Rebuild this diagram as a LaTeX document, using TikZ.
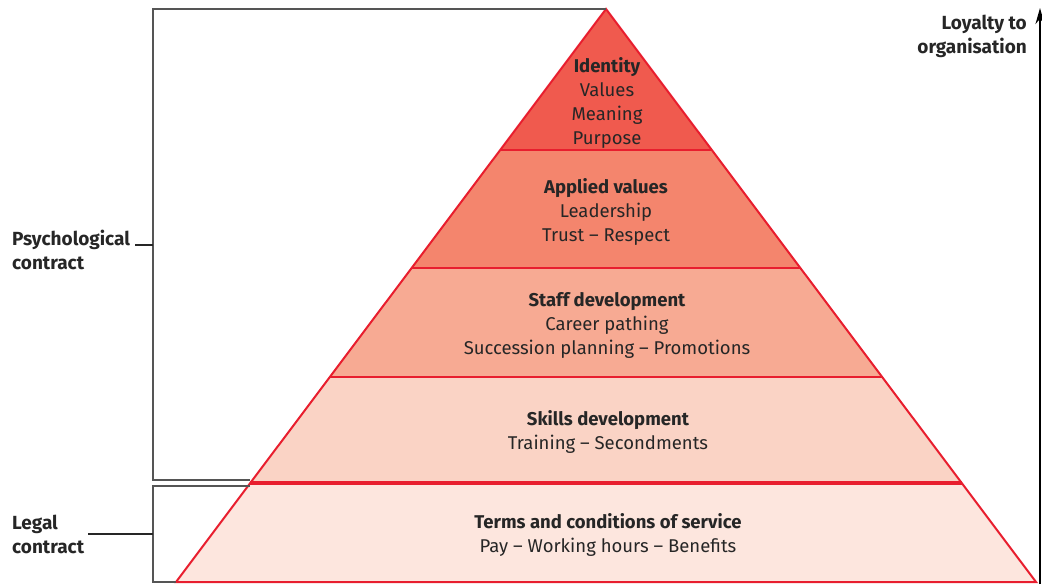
\documentclass[tikz,border=0pt]{standalone}
\usepackage{fontspec}
\setmainfont{Fira Sans}
\usetikzlibrary{arrows.meta}
\definecolor{pred}{RGB}{232,30,46}
\definecolor{c1}{RGB}{240,90,78}
\definecolor{c2}{RGB}{244,133,109}
\definecolor{c3}{RGB}{247,170,147}
\definecolor{c4}{RGB}{250,211,197}
\definecolor{c5}{RGB}{253,230,222}
\definecolor{brk}{RGB}{85,85,85}
\tikzset{
  band/.style={draw=pred, line width=2pt, line join=miter},
  lbl/.style={align=center, font=\fontsize{18.5}{24}\selectfont, text=black!85, inner sep=0pt},
  side/.style={align=left, font=\fontsize{19}{24}\selectfont\bfseries, text=black!85, inner sep=0pt},
  bracket/.style={draw=brk, line width=1.4pt},
}
\begin{document}
\begin{tikzpicture}[x=1pt,y=-1pt]
\useasboundingbox (0,0) rectangle (1042,585);
% coordinates
\coordinate (A) at (606,9);
\coordinate (L1) at (500.2,150); \coordinate (R1) at (711.8,150);
\coordinate (L2) at (411.6,268); \coordinate (R2) at (800.4,268);
\coordinate (L3) at (329.9,377); \coordinate (R3) at (882.1,377);
\coordinate (L4) at (250.3,483); \coordinate (R4) at (961.7,483);
\coordinate (L5) at (176,582);   \coordinate (R5) at (1036,582);
% bands
\fill[c5] (L4) -- (R4) -- (R5) -- (L5) -- cycle;
\fill[c4] (L3) -- (R3) -- (R4) -- (L4) -- cycle;
\fill[c3] (L2) -- (R2) -- (R3) -- (L3) -- cycle;
\fill[c2] (L1) -- (R1) -- (R2) -- (L2) -- cycle;
\fill[c1] (A) -- (R1) -- (L1) -- cycle;
\draw[band] (A) -- (R5) -- (L5) -- cycle;
\draw[band] (L1) -- (R1);
\draw[band] (L2) -- (R2);
\draw[band] (L3) -- (R3);
\draw[draw=pred, line width=4.5pt] (L4) -- (R4);
% brackets
\coordinate (P1) at (250,480); \coordinate (P2) at (153,480); \coordinate (P3) at (153,9);
\draw[bracket] (P1) -- (P2) -- (P3) -- (A);
\coordinate (G1) at (250,486); \coordinate (G2) at (153,486); \coordinate (G3) at (153,582);
\draw[bracket] (G1) -- (G2) -- (G3) -- (L5);
\coordinate (PT) at (153,245); \coordinate (PT0) at (135,245);
\coordinate (GT) at (153,534); \coordinate (GT0) at (88,534);
\draw[draw=black!85, line width=1.1pt] (PT0) -- (PT);
\draw[draw=black!85, line width=1.1pt] (GT0) -- (GT);
% arrow
\coordinate (Y0) at (1040,584); \coordinate (Y1) at (1040,8);
\draw[line width=2pt, -{Stealth[length=16pt, width=9pt]}] (Y0) -- (Y1);
% labels
\node[lbl] (t1) at (607,103) {\textbf{Identity}\\Values\\Meaning\\Purpose};
\node[lbl] (t2) at (606,212) {\textbf{Applied values}\\Leadership\\Trust – Respect};
\node[lbl] (t3) at (607,325) {\textbf{Staff development}\\Career pathing\\Succession planning – Promotions};
\node[lbl] (t4) at (608,432) {\textbf{Skills development}\\Training – Secondments};
\node[lbl] (t5) at (608,535) {\textbf{Terms and conditions of service}\\Pay – Working hours – Benefits};
\node[side, anchor=west] (s1) at (12,250) {Psychological\\contract};
\node[side, anchor=west] (s2) at (12,534) {Legal\\contract};
\node[side, align=right, anchor=east] (s3) at (1027,36) {Loyalty to\\organisation};
\end{tikzpicture}
\end{document}
